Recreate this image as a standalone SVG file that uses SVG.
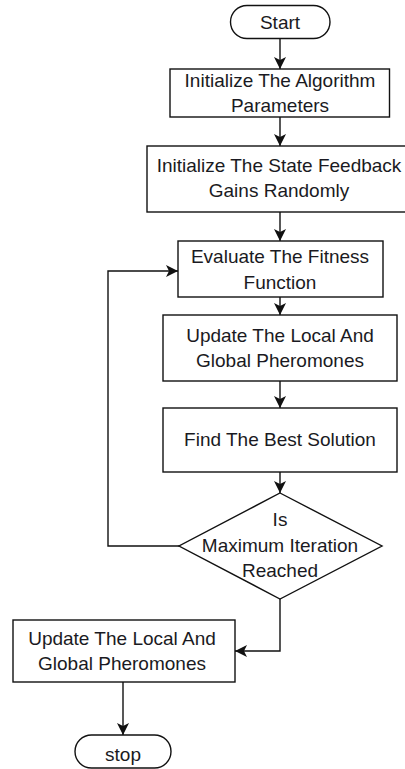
<svg xmlns="http://www.w3.org/2000/svg" width="405" height="769" viewBox="0 0 405 769">
<style>
.shape{fill:#fff;stroke:#111;stroke-width:1.4}
.conn{fill:none;stroke:#111;stroke-width:1.4}
text{font-family:"Liberation Sans",Arial,sans-serif;font-size:19px;fill:#1a1a22;text-anchor:middle}
</style>
<defs>
<marker id="arr" markerUnits="userSpaceOnUse" markerWidth="14" markerHeight="12" refX="12" refY="6" orient="auto">
<path d="M0,0 L12,6 L0,12 L3,6 Z" fill="#111"/>
</marker>
</defs>
<rect x="0" y="0" width="405" height="769" fill="#fff"/>
<g id="connectors">
<line class="conn" x1="280" y1="38" x2="280" y2="69" marker-end="url(#arr)"/>
<line class="conn" x1="280" y1="117" x2="280" y2="146" marker-end="url(#arr)"/>
<line class="conn" x1="280" y1="212" x2="280" y2="241" marker-end="url(#arr)"/>
<line class="conn" x1="280" y1="297" x2="280" y2="315" marker-end="url(#arr)"/>
<line class="conn" x1="280" y1="381" x2="280" y2="408" marker-end="url(#arr)"/>
<line class="conn" x1="280" y1="472" x2="280" y2="493" marker-end="url(#arr)"/>
<polyline class="conn" points="179,546 108,546 108,271 178,271" marker-end="url(#arr)"/>
<polyline class="conn" points="280,599 280,651 235,651" marker-end="url(#arr)"/>
<line class="conn" x1="123" y1="682" x2="123" y2="735" marker-end="url(#arr)"/>
</g>
<g id="start">
<rect class="shape" x="230.5" y="5.5" width="99.5" height="33" rx="16.5"/>
<text x="280" y="28.5">Start</text>
</g>
<g id="init-params">
<rect class="shape" x="170" y="69" width="219.5" height="48"/>
<text x="280" y="86.5">Initialize The Algorithm</text>
<text x="280" y="112">Parameters</text>
</g>
<g id="init-gains">
<rect class="shape" x="147" y="146" width="270" height="66"/>
<text x="279" y="171.5">Initialize The State Feedback</text>
<text x="279" y="197">Gains Randomly</text>
</g>
<g id="evaluate">
<rect class="shape" x="178" y="241" width="205" height="56"/>
<text x="280" y="263">Evaluate The Fitness</text>
<text x="280" y="289">Function</text>
</g>
<g id="update1">
<rect class="shape" x="163" y="315" width="234" height="66"/>
<text x="280" y="341.5">Update The Local And</text>
<text x="280" y="367">Global Pheromones</text>
</g>
<g id="best">
<rect class="shape" x="163" y="408" width="234" height="64"/>
<text x="280" y="446">Find The Best Solution</text>
</g>
<g id="decision">
<polygon class="shape" points="280,493 382,546 280,599 179,546"/>
<text x="280" y="526">Is</text>
<text x="280" y="551.5">Maximum Iteration</text>
<text x="280" y="577">Reached</text>
</g>
<g id="update2">
<rect class="shape" x="13" y="620" width="222" height="62"/>
<text x="122" y="644.5">Update The Local And</text>
<text x="122" y="670">Global Pheromones</text>
</g>
<g id="stop">
<rect class="shape" x="75" y="735" width="96" height="33" rx="16.5"/>
<text x="123" y="761">stop</text>
</g>
</svg>
